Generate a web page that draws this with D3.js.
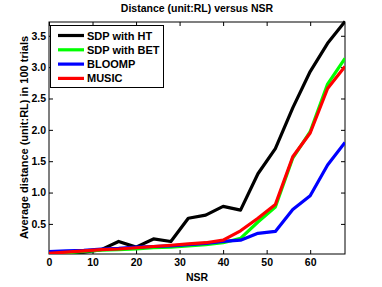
<!DOCTYPE html>
<html>
<head>
<meta charset="utf-8">
<script src="https://cdn.jsdelivr.net/npm/d3@7"></script>
<style>
  body { margin: 0; background: #fff; }
  svg { font-family: "Liberation Sans", Arial, sans-serif; font-weight: bold; }
  .axis path, .axis line { stroke: #000; }
</style>
</head>
<body>
<svg id="chart" width="382" height="287"></svg>
<script>
// NSR values (x axis)
const nsr = [0, 4, 8, 12, 16, 20, 24, 28, 32, 36, 40, 44, 48, 52, 56, 60, 64, 68];

// average distance per method
const sdpHT  = [0.02, 0.03, 0.05, 0.09, 0.22, 0.13, 0.26, 0.22, 0.59, 0.64, 0.78, 0.72, 1.30, 1.70, 2.35, 2.93, 3.38, 3.73];
const sdpBET = [0.03, 0.04, 0.06, 0.08, 0.09, 0.10, 0.12, 0.13, 0.15, 0.17, 0.20, 0.27, 0.53, 0.77, 1.55, 1.97, 2.73, 3.14];
const bloomp = [0.06, 0.07, 0.08, 0.10, 0.11, 0.13, 0.14, 0.15, 0.17, 0.19, 0.22, 0.24, 0.35, 0.38, 0.73, 0.95, 1.44, 1.80];
const music  = [0.03, 0.05, 0.07, 0.09, 0.10, 0.12, 0.14, 0.16, 0.18, 0.20, 0.24, 0.39, 0.59, 0.81, 1.57, 1.95, 2.66, 3.01];

const seriesNames = ['SDP with HT', 'SDP with BET', 'BLOOMP', 'MUSIC'];
const seriesColors = ['#000000', '#00ff00', '#0000ff', '#ff0000'];
const seriesValues = [sdpHT, sdpBET, bloomp, music];

const xTicks = [0, 10, 20, 30, 40, 50, 60];
const yTicks = [0.5, 1, 1.5, 2, 2.5, 3, 3.5];

const margin = {left: 49, right: 37, top: 22, bottom: 33};
const width = 382, height = 287;

const svg = d3.select('#chart');

const x = d3.scaleLinear().domain([0, 68]).range([margin.left, width - margin.right]);
const y = d3.scaleLinear().domain([0.02, 3.72]).range([height - margin.bottom, margin.top]);

// axes, ticks pointing inward (matlab style box)
svg.append('g').attr('class', 'axis')
    .attr('transform', 'translate(0,' + (height - margin.bottom) + ')')
    .call(d3.axisBottom(x).tickValues(xTicks).tickSize(-4).tickPadding(5).tickSizeOuter(0))
    .call(g => g.selectAll('text').attr('font-size', 10.5).attr('font-weight', 'bold'));

svg.append('g').attr('class', 'axis')
    .attr('transform', 'translate(0,' + margin.top + ')')
    .call(d3.axisTop(x).tickValues(xTicks).tickSize(-4).tickFormat('').tickSizeOuter(0));

svg.append('g').attr('class', 'axis')
    .attr('transform', 'translate(' + margin.left + ',0)')
    .call(d3.axisLeft(y).tickValues(yTicks).tickSize(-4).tickPadding(3).tickSizeOuter(0))
    .call(g => g.selectAll('text').attr('font-size', 10.5).attr('font-weight', 'bold'));

svg.append('g').attr('class', 'axis')
    .attr('transform', 'translate(' + (width - margin.right) + ',0)')
    .call(d3.axisRight(y).tickValues(yTicks).tickSize(-4).tickFormat('').tickSizeOuter(0));

svg.selectAll('.axis .domain').remove();

svg.append('rect')
    .attr('x', margin.left).attr('y', margin.top)
    .attr('width', width - margin.left - margin.right)
    .attr('height', height - margin.top - margin.bottom)
    .attr('fill', 'none').attr('stroke', '#000').attr('stroke-width', 1);

// lines
svg.append('clipPath').attr('id', 'clip').append('rect')
    .attr('x', margin.left).attr('y', margin.top - 2)
    .attr('width', width - margin.left - margin.right)
    .attr('height', height - margin.top - margin.bottom + 2);

const line = d3.line().x((d, i) => x(nsr[i])).y(d => y(d));

svg.append('g').attr('clip-path', 'url(#clip)')
    .selectAll('path')
    .data(seriesValues)
    .enter()
    .append('path')
    .attr('d', d => line(d))
    .attr('fill', 'none')
    .attr('stroke', (d, i) => seriesColors[i])
    .attr('stroke-width', 3.2)
    .attr('stroke-linejoin', 'round');

// legend
const legend = svg.append('g');
legend.append('rect')
    .attr('x', 50.5).attr('y', 25.5).attr('width', 113).attr('height', 62)
    .attr('fill', '#fff').attr('stroke', '#000');

seriesNames.forEach((name, i) => {
    let ly = 35.5 + i * 14.3;
    legend.append('line')
        .attr('x1', 58).attr('x2', 84).attr('y1', ly).attr('y2', ly)
        .attr('stroke', seriesColors[i]).attr('stroke-width', 3.2);
    legend.append('text')
        .attr('x', 87).attr('y', ly + 4)
        .attr('font-size', 11).text(name);
});

// titles
svg.append('text')
    .attr('x', 197).attr('y', 12).attr('text-anchor', 'middle')
    .attr('font-size', 10.5).text('Distance (unit:RL) versus NSR');

svg.append('text')
    .attr('x', 197).attr('y', 281).attr('text-anchor', 'middle')
    .attr('font-size', 10.5).text('NSR');

svg.append('text')
    .attr('transform', 'translate(27.5,137.5) rotate(-90)')
    .attr('text-anchor', 'middle')
    .attr('font-size', 11).text('Average distance (unit:RL) in 100 trials');
</script>
</body>
</html>
